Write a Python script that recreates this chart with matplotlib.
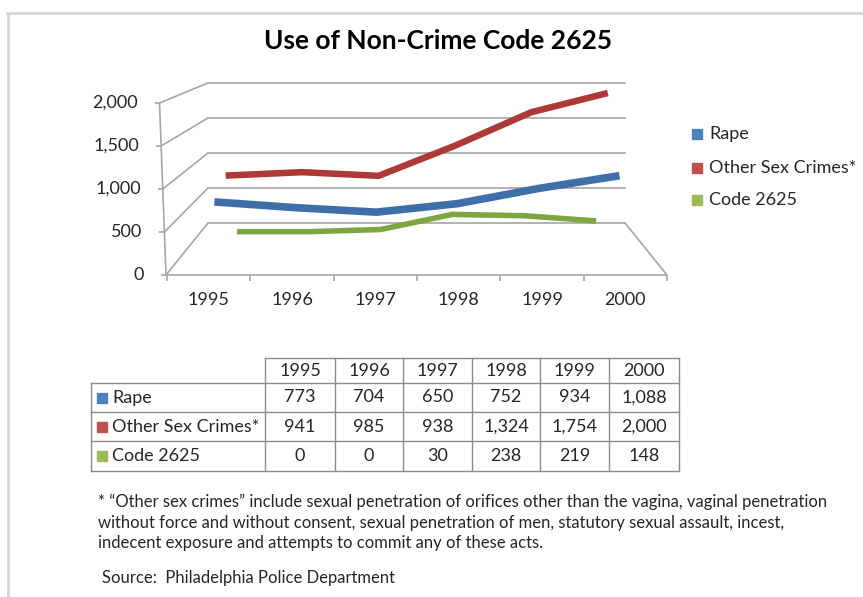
import numpy as np
import matplotlib
matplotlib.use('Agg')
import matplotlib.pyplot as plt
from matplotlib.transforms import Affine2D, IdentityTransform

plt.rcParams['font.family'] = ['Lato', 'DejaVu Sans']

# ── data ──
years = ['1995', '1996', '1997', '1998', '1999', '2000']
rape = [773, 704, 650, 752, 934, 1088]
other_sex = [941, 985, 938, 1324, 1754, 2000]
code_2625 = [0, 0, 30, 238, 219, 148]
series_names = ['Rape', 'Other Sex Crimes*', 'Code 2625']
y_ticks = [0, 500, 1000, 1500, 2000]

title = 'Use of Non-Crime Code 2625'
footnote = ['* \u201cOther sex crimes\u201d include sexual penetration of orifices other than the vagina, vaginal penetration',
            'without force and without consent, sexual penetration of men, statutory sexual assault, incest,',
            'indecent exposure and attempts to commit any of these acts.']
source = 'Source:  Philadelphia Police Department'

# ── styling ──
legend_cols = ['#4f81bd', '#c0504d', '#9bbb59']
ribbon_cols = ['#3e6fa9', '#ad3a37', '#7fa541']
grid_c = '#a6a6a6'
text_c = '#262626'
FS = 13  # body text size

W, H = 863, 597
fig = plt.figure(figsize=(W / 100, H / 100), dpi=100)

# pixel overlay (y pointing down) for the layout pieces
bg = fig.add_axes([0, 0, 1, 1])
bg.set_xlim(0, W)
bg.set_ylim(H, 0)
bg.axis('off')

# front plane of the 3d box
ax = fig.add_axes([167 / W, (H - 275) / H, 500 / W, 172 / H])
ax.set_xlim(-0.5, 5.5)
ax.set_ylim(0, 2000)
ax.axis('off')

VP = (414.0, H + 4.6)  # vanishing point, display px


def depth(d):
    # d = 0 front plane, d = 1 back wall
    sx = 1 - 0.166 * d
    sy = 1 - 0.186 * d
    return Affine2D().translate(-VP[0], -VP[1]).scale(sx, sy).translate(*VP)


def to_disp(x, v, d):
    return depth(d).transform(ax.transData.transform((x, v)))


def left_edge(v):
    p = ax.transData.transform((-0.5, v))
    return np.array([p[0] - 1 - 6.5 * v / 2000, p[1]])


ID = IdentityTransform()


def seg(p, q, **kw):
    bg.plot([p[0], q[0]], [p[1], q[1]], transform=ID, clip_on=False,
            solid_capstyle='butt', **kw)


# back wall gridlines
for v in y_ticks:
    ax.plot([-0.5, 5.5], [v, v], color=grid_c, lw=1.2,
            transform=ax.transData + depth(1.0), clip_on=False)
    # left wall lines
    seg(left_edge(v), to_disp(-0.5, v, 1.0), color=grid_c, lw=1.2)
    # axis ticks and labels
    p = left_edge(v)
    seg(p, p - [5, 0], color=grid_c, lw=1.2)
    bg.text(p[0] - 22, p[1], f'{v:,}', transform=ID, ha='right', va='center',
            fontsize=FS, color=text_c)

# front left edge, floor edges
seg(left_edge(0), left_edge(2000), color=grid_c, lw=1.2)
seg(left_edge(0), to_disp(5.5, 0, 0), color=grid_c, lw=1.2)
seg(to_disp(5.5, 0, 0), to_disp(5.5, 0, 1.0), color=grid_c, lw=1.2)

# category ticks and labels
for i in range(len(years) + 1):
    p = to_disp(i - 0.5, 0, 0)
    seg(p, p - [0, 6], color=grid_c, lw=1.2)
for i, yr in enumerate(years):
    p = to_disp(i, 0, 0)
    bg.text(p[0], p[1] - 25, yr, transform=ID, ha='center', va='center',
            fontsize=FS, color=text_c)

# ribbons, back to front
ribbons = [(code_2625, 0.833, ribbon_cols[2], 4.0),
           (other_sex, 0.5, ribbon_cols[1], 4.7),
           (rape, 0.167, ribbon_cols[0], 5.5)]
xs = np.arange(len(years))
for vals, d, c, lw in ribbons:
    ax.plot(xs, vals, color=c, lw=lw, solid_capstyle='butt',
            solid_joinstyle='miter', transform=ax.transData + depth(d),
            clip_on=False)

# title
bg.text(438, 41, title, ha='center', va='center', fontsize=19,
        fontweight='bold', color='black')

# legend
for i, (name, c) in enumerate(zip(series_names, legend_cols)):
    yy = [134, 168, 200][i]
    bg.plot([697], [yy], marker='s', ms=6.5, color=c, mec=c)
    bg.text(709, yy, name, ha='left', va='center', fontsize=FS, color=text_c)

# data table
cols = [91, 265, 335, 403, 472, 540, 609, 679]
rows = [358, 383, 412, 441, 471]
tc = '#8c8c8c'
bg.plot([cols[1], cols[-1]], [rows[0], rows[0]], color=tc, lw=1)
for x in cols[1:]:
    bg.plot([x, x], [rows[0], rows[-1]], color=tc, lw=1)
bg.plot([cols[0], cols[0]], [rows[1], rows[-1]], color=tc, lw=1)
for y in rows[1:]:
    bg.plot([cols[0], cols[-1]], [y, y], color=tc, lw=1)

for j, yr in enumerate(years):
    cx = (cols[j + 1] + cols[j + 2]) / 2
    bg.text(cx, (rows[0] + rows[1]) / 2, yr, ha='center', va='center',
            fontsize=FS, color=text_c)
for i, (name, vals) in enumerate(zip(series_names, [rape, other_sex, code_2625])):
    cy = (rows[i + 1] + rows[i + 2]) / 2
    bg.plot([102], [cy], marker='s', ms=6.5, color=legend_cols[i], mec=legend_cols[i])
    bg.text(112, cy, name, ha='left', va='center', fontsize=FS, color=text_c)
    for j, v in enumerate(vals):
        cx = (cols[j + 1] + cols[j + 2]) / 2
        bg.text(cx, cy, f'{v:,}', ha='center', va='center', fontsize=FS, color=text_c)

# footnote and source
for k, line in enumerate(footnote):
    bg.text(98, [502, 523, 543][k], line, ha='left', va='center',
            fontsize=12, color=text_c)
bg.text(102, 578, source, ha='left', va='center', fontsize=12, color=text_c)

# frame edges of the original picture
bg.plot([7, W], [13, 13], color='#d4d4d4', lw=1.8, clip_on=False)
bg.plot([7.5, 7.5], [13, H], color='#d4d4d4', lw=1.8, clip_on=False)

fig.savefig('out.png', dpi=100)
